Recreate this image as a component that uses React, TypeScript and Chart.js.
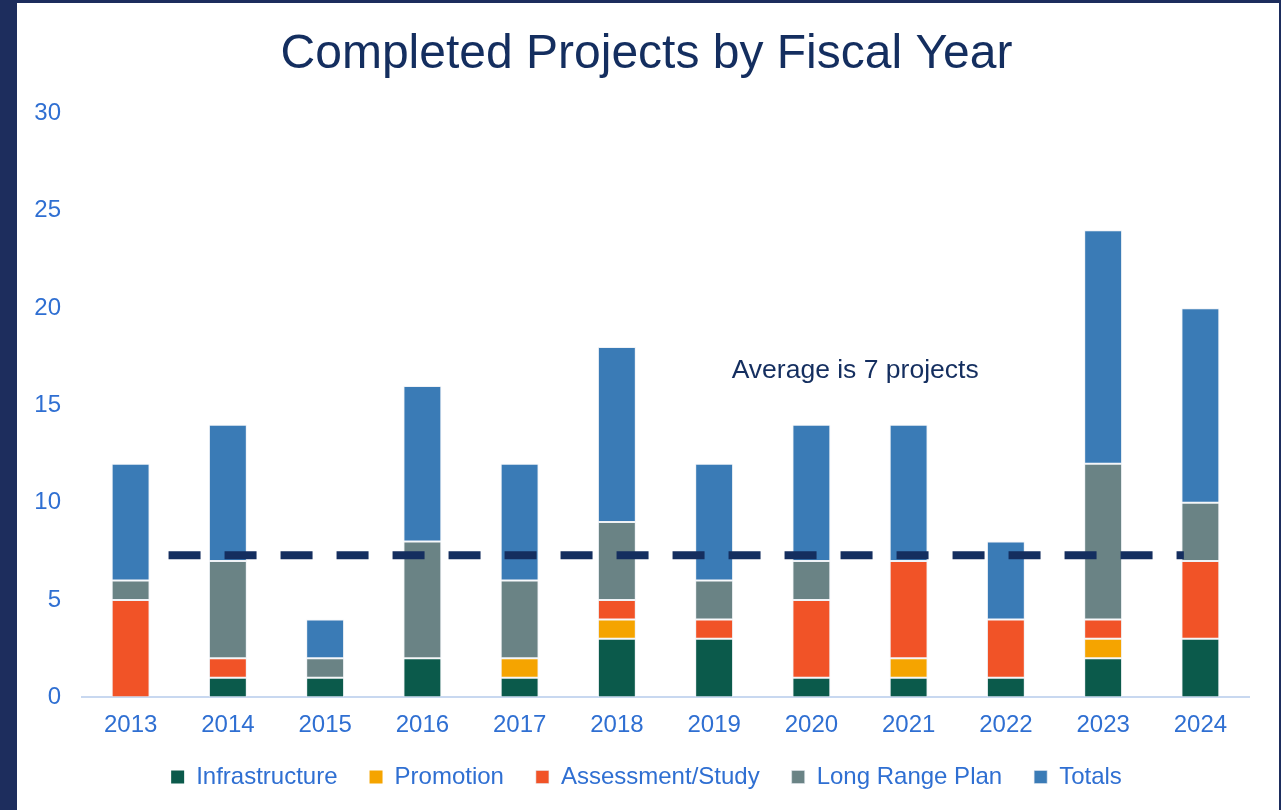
import React, { useEffect, useRef } from "react";
import { Chart, registerables } from "chart.js";

Chart.register(...registerables);

const years = ["2013", "2014", "2015", "2016", "2017", "2018", "2019", "2020", "2021", "2022", "2023", "2024"];
const infrastructure = [0, 1, 1, 2, 1, 3, 3, 1, 1, 1, 2, 3];
const promotion = [0, 0, 0, 0, 1, 1, 0, 0, 1, 0, 1, 0];
const assessment = [5, 1, 0, 0, 0, 1, 1, 4, 5, 3, 1, 4];
const longRangePlan = [1, 5, 1, 6, 4, 4, 2, 2, 0, 0, 8, 3];
const totals = [6, 7, 2, 8, 6, 9, 6, 7, 7, 4, 12, 10];
const yTicks = [0, 5, 10, 15, 20, 25, 30];
const averageValue = 7.3;
const averageLabel = "Average is 7 projects";
const averageLineFrom = 0.39;
const averageLineTo = 10.83;
const averageLabelX = 7.45;
const averageLabelY = 16.8;

const FONT = "'Liberation Sans', Arial, sans-serif";
const NAVY = "#142e5f";
const BLUE_TEXT = "#2f6fd2";

const averagePlugin = {
  id: "averageLine",
  afterDatasetsDraw(chart: any) {
    const { ctx, scales } = chart;
    const x = scales.x;
    const y = scales.y;
    const py = y.getPixelForValue(averageValue);
    ctx.save();
    ctx.strokeStyle = NAVY;
    ctx.lineWidth = 8;
    ctx.setLineDash([32, 24]);
    ctx.beginPath();
    ctx.moveTo(x.getPixelForValue(averageLineFrom), py);
    ctx.lineTo(x.getPixelForValue(averageLineTo), py);
    ctx.stroke();
    ctx.setLineDash([]);
    ctx.fillStyle = NAVY;
    ctx.font = `26.5px ${FONT}`;
    ctx.textAlign = "center";
    ctx.textBaseline = "middle";
    ctx.fillText(averageLabel, x.getPixelForValue(averageLabelX), y.getPixelForValue(averageLabelY));
    ctx.restore();
  },
};

export default function App() {
  const ref = useRef<HTMLCanvasElement | null>(null);
  useEffect(() => {
    document.body.style.margin = "0";
    if (!ref.current) return;
    const bw = (c: any) => (c.raw ? 1 : 0);
    const mk = (label: string, data: number[], color: string) => ({
      label,
      data,
      backgroundColor: color,
      borderColor: "rgba(225,232,238,0.55)",
      borderWidth: bw,
      borderSkipped: false,
      categoryPercentage: 1,
      barPercentage: 0.39,
      yAxisID: "y",
    });
    const chart = new Chart(ref.current, {
      type: "bar",
      data: {
        labels: years,
        datasets: [
          mk("Infrastructure", infrastructure, "#0b5a4b"),
          mk("Promotion", promotion, "#f5a400"),
          mk("Assessment/Study", assessment, "#f15327"),
          mk("Long Range Plan", longRangePlan, "#6a8385"),
          mk("Totals", totals, "#3a7bb6"),
        ] as any,
      },
      options: {
        animation: false,
        responsive: false,
        maintainAspectRatio: false,
        layout: { padding: { left: 15, right: 18, top: 0, bottom: 11 } },
        plugins: {
          title: {
            display: true,
            text: "Completed Projects by Fiscal Year",
            color: NAVY,
            font: { family: FONT, size: 48, weight: "normal" },
            padding: { top: 23, bottom: 30 },
          },
          legend: {
            position: "bottom",
            labels: {
              color: BLUE_TEXT,
              font: { family: FONT, size: 24 },
              boxWidth: 13,
              boxHeight: 13,
              padding: 32,
            },
          },
          tooltip: { enabled: false },
        },
        scales: {
          x: {
            stacked: true,
            grid: { display: false },
            border: { display: true, color: "#c8d8f0", width: 2 },
            ticks: { color: BLUE_TEXT, font: { family: FONT, size: 24 }, padding: 6 },
            afterFit: (axis: any) => {
              axis.height = axis.height - 13;
            },
          },
          y: {
            stacked: true,
            min: 0,
            max: 30,
            afterBuildTicks: (axis: any) => {
              axis.ticks = yTicks.map((v) => ({ value: v }));
            },
            afterFit: (axis: any) => {
              axis.width = 50;
            },
            grid: { display: false },
            border: { display: false },
            ticks: { color: BLUE_TEXT, font: { family: FONT, size: 24 }, padding: 13 },
          },
          yRight: {
            position: "right",
            display: true,
            min: 0,
            max: 30,
            grid: { display: false, drawTicks: false },
            border: { display: false },
            ticks: { display: false },
            afterFit: (axis: any) => {
              axis.width = 12;
            },
          },
        },
      },
      plugins: [averagePlugin],
    });
    return () => chart.destroy();
  }, []);
  return (
    <div
      style={{
        width: 1281,
        height: 810,
        boxSizing: "border-box",
        borderLeft: "17px solid #1d2d5d",
        borderTop: "3px solid #1d2d5d",
        borderRight: "2px solid #1d2d5d",
        background: "#fff",
        overflow: "hidden",
      }}
    >
      <canvas ref={ref} width={1262} height={807} style={{ display: "block" }} />
    </div>
  );
}
